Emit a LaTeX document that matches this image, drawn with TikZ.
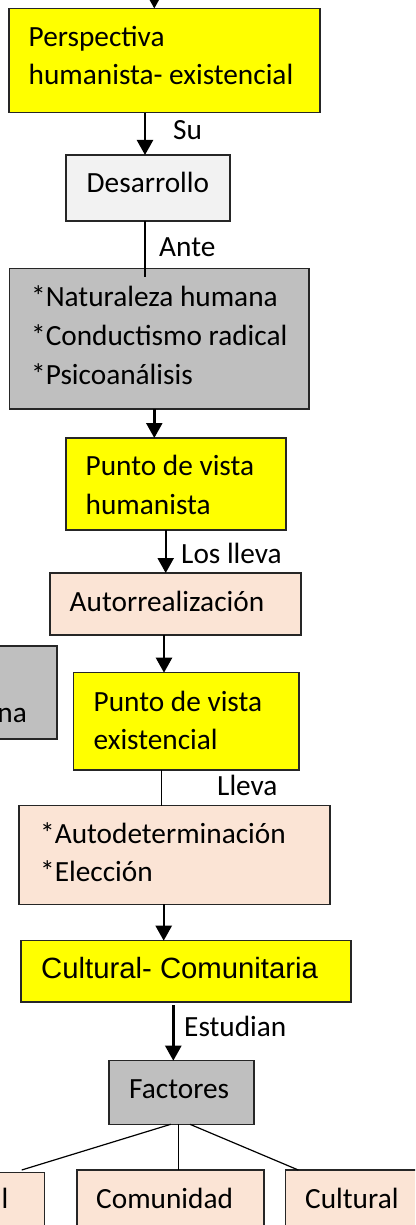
\documentclass[tikz,border=0pt]{standalone}
\usepackage{fontspec}
\setmainfont{Carlito}
\newfontfamily\arialf{Liberation Sans}
\usetikzlibrary{arrows.meta,calc}
\definecolor{yel}{HTML}{FFFF00}
\definecolor{gry}{HTML}{BFBFBF}
\definecolor{lgry}{HTML}{F2F2F2}
\definecolor{pch}{HTML}{FBE4D5}
\definecolor{bord}{HTML}{262626}
\begin{document}
\begin{tikzpicture}[x=1pt,y=1pt,
  box/.style={draw=bord, line width=1.3pt, anchor=north west, inner sep=0pt, outer sep=0pt, rectangle},
  txt/.style={anchor=base west, inner sep=0pt, font=\fontsize{29.3}{36}\selectfont},
  arr/.style={line width=2.4pt, -{Triangle[length=15pt,width=16pt]}},
  ln/.style={line width=1.2pt}]
\useasboundingbox (0,0) rectangle (415,-1225);
\clip (0,0) rectangle (415,-1225);
% boxes
\node[box, fill=yel,  minimum width=311pt,   minimum height=104.2pt] (b1)  at (9,-8.5) {};
\node[box, fill=lgry, minimum width=164pt,   minimum height=66pt]    (b2)  at (66,-155) {};
\node[box, fill=gry,  minimum width=299.5pt, minimum height=140.5pt] (b3)  at (9.5,-268.5) {};
\node[box, fill=yel,  minimum width=220pt,   minimum height=92pt]    (b4)  at (66,-438) {};
\node[box, fill=pch,  minimum width=251pt,   minimum height=62pt]    (b5)  at (50,-573) {};
\node[box, fill=gry,  minimum width=117pt,   minimum height=93pt]    (b6)  at (-60,-646) {};
\node[box, fill=yel,  minimum width=225.3pt, minimum height=97.3pt]  (b7)  at (73.7,-672.7) {};
\node[box, fill=pch,  minimum width=311pt,   minimum height=98.6pt]  (b8)  at (19,-805.7) {};
\node[box, fill=yel,  minimum width=330pt,   minimum height=61.3pt]  (b9)  at (21,-940.7) {};
\node[box, fill=gry,  minimum width=145pt,   minimum height=63.6pt]  (b10) at (109,-1060.7) {};
\node[box, fill=pch,  minimum width=104.3pt, minimum height=90pt]    (b11) at (-60,-1172.3) {};
\node[box, fill=pch,  minimum width=187pt,   minimum height=90pt]    (b12) at (77,-1170) {};
\node[box, fill=pch,  minimum width=150pt,   minimum height=90pt]    (b13) at (285.7,-1170) {};
% texts
\node[txt] (t1a) at (28.5,-47) {Perspectiva};
\node[txt] (t1b) at (28.5,-85) {humanista- existencial};
\node[txt] (t2)  at (86.5,-193) {Desarrollo};
\node[txt] (t3a) at (31,-306.5) {*Naturaleza humana};
\node[txt] (t3b) at (31,-345.5) {*Conductismo radical};
\node[txt] (t3c) at (31,-384.5) {*Psicoanálisis};
\node[txt] (t4a) at (85.5,-475) {Punto de vista};
\node[txt] (t4b) at (85.5,-514) {humanista};
\node[txt] (t5)  at (69.5,-611) {Autorrealización};
\node[txt, anchor=base east] (t6) at (27,-722.7) {na};
\node[txt] (t7a) at (93.5,-711) {Punto de vista};
\node[txt] (t7b) at (93.5,-749) {existencial};
\node[txt] (t8a) at (40,-843) {*Autodeterminación};
\node[txt] (t8b) at (40,-881.7) {*Elección};
\node[txt, font=\arialf\fontsize{29.3}{36}\selectfont] (t9) at (41,-978) {Cultural- Comunitaria};
\node[txt] (t10) at (129,-1098) {Factores};
\node[txt, anchor=base east] (t11) at (8.5,-1208) {al};
\node[txt] (t12) at (96,-1208) {Comunidad};
\node[txt] (t13) at (305,-1208) {Cultural};
% labels
\node[txt] (lsu)  at (173,-140) {Su};
\node[txt] (lante) at (159,-256) {Ante};
\node[txt] (llos) at (181,-563) {Los lleva};
\node[txt] (llev) at (217,-795.7) {Lleva};
\node[txt] (lest) at (184,-1036.7) {Estudian};
% connectors
\coordinate (top) at (154.3,20);
\draw[arr] (top) -- (top |- b1.north);
\draw[arr] (b1.south -| 145,0) -- (b2.north -| 145,0);
\draw[ln]  (b2.south -| 145,0) -- ($(b3.north -| 145,0)+(0,-8)$);
\draw[arr] (b3.south -| 154.3,0) -- (b4.north -| 154.3,0);
\draw[arr] (b4.south -| 165.7,0) -- (b5.north -| 165.7,0);
\draw[arr] (b5.south -| 164,0) -- (b7.north -| 164,0);
\draw[ln]  (b7.south -| 161.7,0) -- (b8.north -| 161.7,0);
\draw[arr] (b8.south -| 163.7,0) -- (b9.north -| 163.7,0);
\draw[arr] ($(b9.south -| 173.3,0)+(0,-3)$) -- (b10.north -| 173.3,0);
\draw[ln]  (b10.south -| 170.7,0) -- ($(b11.north -| 21.7,0)+(0,2.3)$);
\draw[ln]  (b10.south -| 178.7,0) -- (b12.north -| 178.7,0);
\draw[ln]  (b10.south -| 190,0) -- (b13.north -| 298.3,0);
\end{tikzpicture}
\end{document}
